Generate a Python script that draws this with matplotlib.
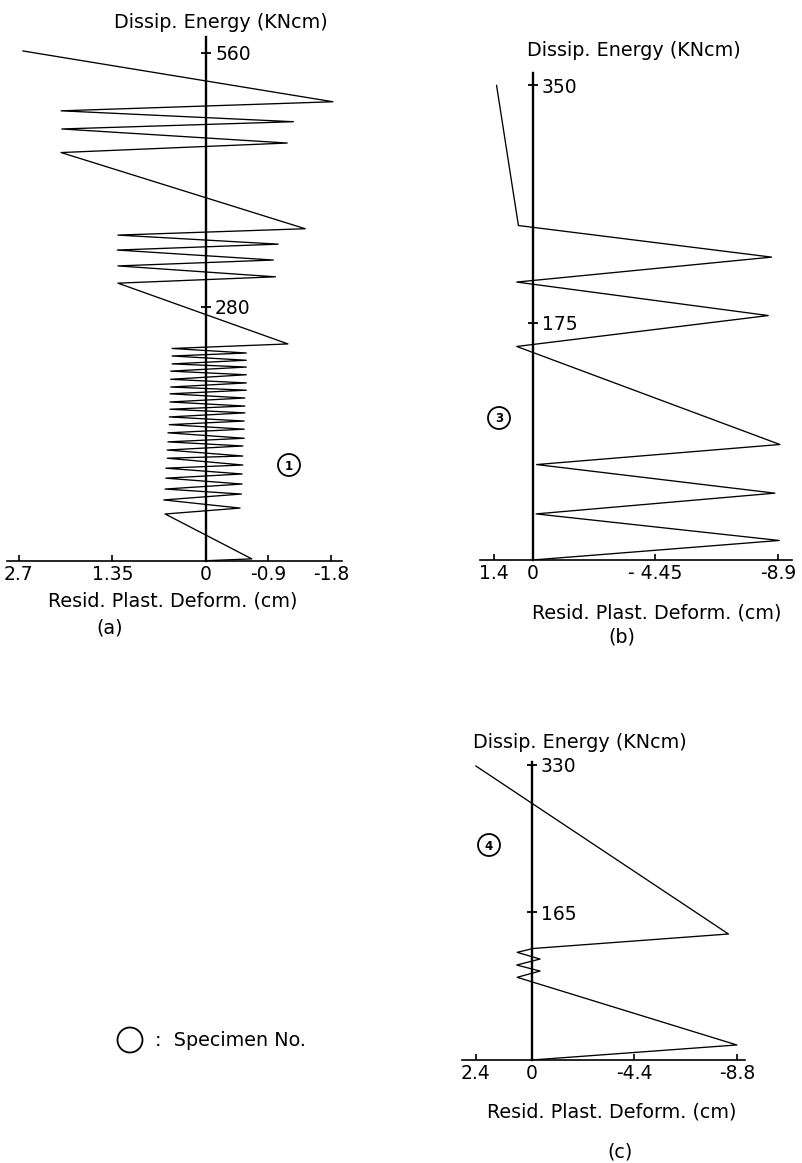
import matplotlib
matplotlib.use("Agg")
import matplotlib.pyplot as plt
from matplotlib.patches import Ellipse

# panel (a) - specimen 1
xa = [0, -0.66, 0.59, -0.49, 0.61, -0.51, 0.59, -0.52, 0.58, -0.52, 0.58, -0.53,
      0.56, -0.53, 0.56, -0.53, 0.55, -0.55, 0.55, -0.55, 0.53, -0.55, 0.53, -0.56,
      0.52, -0.56, 0.52, -0.56, 0.52, -0.58, 0.51, -0.58, 0.51, -0.58, 0.51, -0.58,
      0.49, -0.58, 0.49, -0.58, 0.49, -1.18, 1.27, -1.0, 1.27, -0.97, 1.28, -1.04,
      1.27, -1.43, 2.09, -1.17, 2.08, -1.26, 2.09, -1.83, 2.64]
ea = [0, 2, 51.5, 58, 67, 73.5, 79, 84.5, 91, 95.6, 102, 105.5,
      113, 115.4, 122, 126.5, 131, 135, 141, 145, 150, 154, 158.5, 163,
      167, 170.5, 175, 179.4, 184, 188, 191.5, 196, 200, 205, 209, 213.5,
      217, 221, 225.7, 229, 234, 239, 306, 313, 325, 331.5, 342.5, 349,
      359, 366, 450, 460.5, 476, 484, 496, 506, 562]
ticks_xa = [2.7, 1.35, 0, -0.9, -1.8]
labels_xa = ["2.7", "1.35", "0", "-0.9", "-1.8"]
ticks_ya = [280, 560]

# panel (b) - specimen 3
xb = [0, -8.93, -0.13, -8.77, -0.15, -8.95, 0.57, -8.53, 0.57, -8.65, 0.51, 1.30]
eb = [0, 14.4, 34, 49.3, 70.4, 85.2, 157.5, 180.3, 205, 223.4, 246.7, 350]
ticks_xb = [1.4, 0, -4.45, -8.9]
labels_xb = ["1.4", "0", "- 4.45", "-8.9"]
ticks_yb = [175, 350]

# panel (c) - specimen 4
xc = [0, -8.8, 0.62, -0.36, 0.64, -0.36, 0.62, -0.06, -8.44, 2.39]
ec = [0, 16.8, 92.4, 99.4, 106.1, 112.8, 120.3, 124.6, 140.8, 328.5]
ticks_xc = [2.4, 0, -4.4, -8.8]
labels_xc = ["2.4", "0", "-4.4", "-8.8"]
ticks_yc = [165, 330]

W, H = 803, 1163
plt.rcParams['font.family'] = 'DejaVu Sans'
fig = plt.figure(figsize=(W / 100, H / 100), dpi=100)
FS = 13.8   # axis titles
TFS = 13.5  # tick labels


def px_axes(x0, x1, ytop, ybot):
    return fig.add_axes([x0 / W, 1 - ybot / H, (x1 - x0) / W, (ybot - ytop) / H])


def ftext(x, y, s, ha='center', fs=FS, **kw):
    fig.text(x / W, 1 - y / H, s, ha=ha, va='center', fontsize=fs, **kw)


def circ(x, y, s, d=22):
    fig.add_artist(Ellipse((x / W, 1 - y / H), d / W, d / H, transform=fig.transFigure,
                           fill=False, ec='black', lw=1.3))
    if s:
        ftext(x, y + 1, s, fs=8.5, fontweight='bold')


def setup(ax, xlim, ylim, xt, xl, yt):
    ax.set_xlim(*xlim)
    ax.set_ylim(*ylim)
    ax.patch.set_alpha(0)
    ax.spines['top'].set_visible(False)
    ax.spines['left'].set_visible(False)
    ax.spines['right'].set_position(('data', 0))
    ax.spines['right'].set_linewidth(1.7)
    ax.spines['bottom'].set_linewidth(1.2)
    ax.yaxis.tick_right()
    ax.set_yticks(yt)
    ax.set_yticklabels([str(v) for v in yt])
    ax.tick_params(axis='y', direction='inout', length=7, width=1.3, pad=3, labelsize=TFS)
    ax.set_xticks(xt)
    ax.set_xticklabels(xl)
    ax.tick_params(axis='x', direction='in', length=4, width=1.2, pad=3, labelsize=TFS)


axa = px_axes(7, 342, 37, 560.7)
axa.plot(xa, ea, color='black', lw=0.95)
setup(axa, (2.87, -1.96), (0, 577.4), ticks_xa, labels_xa, ticks_ya)

axb = px_axes(480, 792, 73, 560)
axb.plot(xb, eb, color='black', lw=0.95)
setup(axb, (1.90, -9.39), (0, 359.2), ticks_xb, labels_xb, ticks_yb)

axc = px_axes(461.7, 745, 762, 1060)
axc.plot(xc, ec, color='black', lw=0.95)
setup(axc, (3.0, -9.15), (0, 333), ticks_xc, labels_xc, ticks_yc)

# axis titles and captions
ftext(221, 22, "Dissip. Energy (KNcm)")
ftext(173, 601, "Resid. Plast. Deform. (cm)")
ftext(110, 628, "(a)")
ftext(634, 50, "Dissip. Energy (KNcm)")
ftext(657, 613, "Resid. Plast. Deform. (cm)")
ftext(622, 637, "(b)")
ftext(580, 742, "Dissip. Energy (KNcm)")
ftext(612, 1112, "Resid. Plast. Deform. (cm)")
ftext(620, 1152, "(c)")

# specimen markers
circ(289, 465, "1")
circ(499, 418, "3")
circ(489, 845, "4")
circ(130, 1040, "", d=25)
ftext(155, 1040, ":  Specimen No.", ha='left')

fig.savefig("out.png", dpi=100)
